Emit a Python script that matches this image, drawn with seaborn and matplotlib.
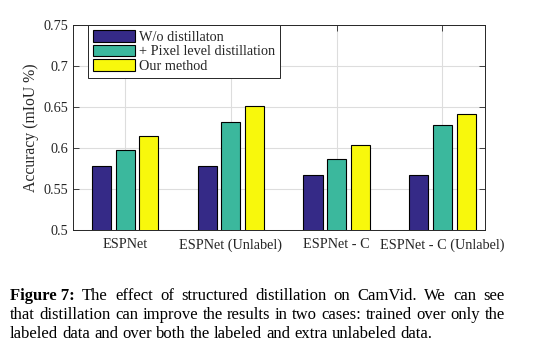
import matplotlib
matplotlib.use("Agg")
import matplotlib.pyplot as plt
import seaborn as sns
import pandas as pd

categories = ["ESPNet", "ESPNet (Unlabel)", "ESPNet - C", "ESPNet - C (Unlabel)"]
series_names = ["W/o distillaton", "+ Pixel level distillation", "Our method"]
wo_distill = [0.578, 0.578, 0.567, 0.567]
pixel_distill = [0.598, 0.632, 0.587, 0.628]
our_method = [0.614, 0.651, 0.603, 0.641]
yticks = [0.5, 0.55, 0.6, 0.65, 0.7, 0.75]
ytick_labels = ["0.5", "0.55", "0.6", "0.65", "0.7", "0.75"]
colors = ["#352a87", "#3bb89d", "#f8f80c"]

caption_lines = [
    ("Figure 7:", "The effect of structured distillation on CamVid.  We can see", True),
    (None, "that distillation can improve the results in two cases: trained over only the", True),
    (None, "labeled data and over both the labeled and extra unlabeled data.", False),
]

rows = []
for name, vals in zip(series_names, [wo_distill, pixel_distill, our_method]):
    for c, v in zip(categories, vals):
        rows.append({"cat": c, "series": name, "value": v})
df = pd.DataFrame(rows)

sns.set_theme(style="white")
plt.rcParams["font.family"] = ["Liberation Serif", "DejaVu Serif"]

fig = plt.figure(figsize=(5.47, 3.57), dpi=100)
ax = fig.add_axes([0.133, 0.356, 0.754, 0.574])

sns.barplot(data=df, x="cat", y="value", hue="series", order=categories,
            hue_order=series_names, palette=colors, saturation=1, width=0.67, gap=0.19,
            edgecolor="black", linewidth=0.8, ax=ax, zorder=3)

ax.set_ylim(0.5, 0.75)
ax.set_xlim(-0.495, 3.404)
ax.set_yticks(yticks)
ax.set_yticklabels(ytick_labels)
ax.set_xlabel("")
ax.set_ylabel("Accuracy (mIoU %)", fontsize=11.3, color="#262626", labelpad=3)
ax.grid(True, color="#dddddd", linewidth=0.8, zorder=0)
ax.set_axisbelow(True)
ax.tick_params(axis="both", direction="in", length=4, width=0.6,
               labelsize=10.3, colors="#262626", top=True, right=True,
               left=True, bottom=True)
ax.tick_params(axis="x", pad=6)
for s in ax.spines.values():
    s.set_color("#262626")
    s.set_linewidth(0.7)
    s.set_visible(True)

leg = ax.legend(loc="upper left", bbox_to_anchor=(0.037, 1.0), borderaxespad=0,
                frameon=True, fancybox=False, fontsize=10.3, handlelength=2.9,
                handleheight=0.9, labelspacing=0.05, handletextpad=0.3,
                borderpad=0.35, title=None)
leg.get_frame().set_edgecolor("#262626")
leg.get_frame().set_linewidth(0.7)
leg.get_frame().set_alpha(1)

# Caption, justified
fig.canvas.draw()
renderer = fig.canvas.get_renderer()
W, H = fig.bbox.width, fig.bbox.height
x_left, x_right = 10, 505
y_pos = [296, 315, 334]
fs = 12.0
def width_of(t, bold=False):
    tt = fig.text(0, 0, t, fontsize=fs, fontweight="bold" if bold else "normal")
    w = tt.get_window_extent(renderer).width
    tt.remove()
    return w
for (bold_lead, text, justify), yp in zip(caption_lines, y_pos):
    words = []
    if bold_lead:
        words.append((bold_lead, True))
    words += [(w, False) for w in text.split()]
    widths = [width_of(w, b) for w, b in words]
    if justify:
        gap = (x_right - x_left - sum(widths)) / (len(words) - 1)
    else:
        gap = width_of("a b") - width_of("ab")
    x = x_left
    for (w, b), wd in zip(words, widths):
        fig.text(x / W, 1 - yp / H, w, fontsize=fs, va="center", ha="left",
                 fontweight="bold" if b else "normal", color="black")
        x += wd + gap

fig.savefig("out.png", dpi=100)
